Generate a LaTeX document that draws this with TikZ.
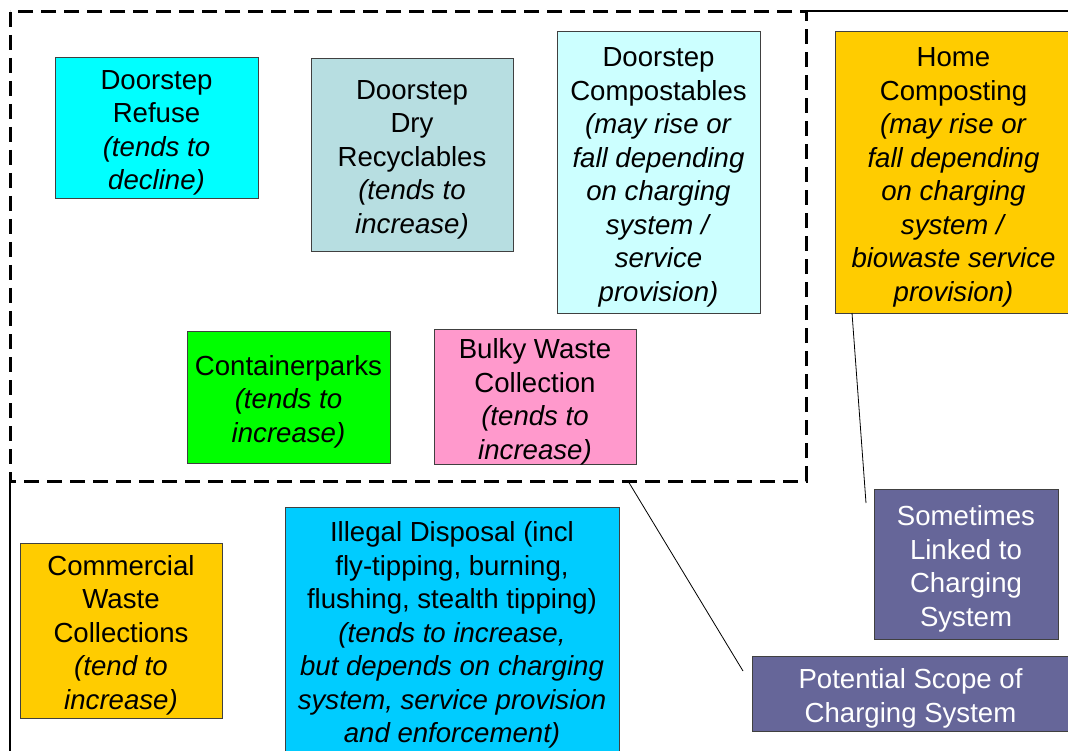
\documentclass[tikz,border=0pt]{standalone}
\usepackage{fontspec}
\setmainfont{Liberation Sans}
\usepackage{xcolor}
\usepackage{tikz}

\definecolor{refusecyan}{HTML}{00FFFF}
\definecolor{drygrey}{HTML}{B7DEE1}
\definecolor{compostpale}{HTML}{CCFFFF}
\definecolor{homegold}{HTML}{FFCC00}
\definecolor{parkgreen}{HTML}{00FF00}
\definecolor{bulkypink}{HTML}{FF99CC}
\definecolor{illegalblue}{HTML}{00CCFF}
\definecolor{scopepurple}{HTML}{666699}

% a little extra room above the first line
\newcommand{\firstline}{\rule{0pt}{29.5pt}}

\tikzset{
  wastebox/.style={draw=black!75, line width=0.8pt, inner sep=0pt, align=center,
    font=\fontsize{27.6}{33.5}\selectfont},
  scopebox/.style={wastebox, fill=scopepurple, text=white},
  pointer/.style={draw=black, line width=0.8pt}
}

\begin{document}
\begin{tikzpicture}[x=1pt,y=-1pt]
       \useasboundingbox (0,0) rectangle (1068,751);
       \begin{scope}
         % frame and scope of doorstep services
         \draw[line width=2pt] (10,760) -- (10,481);
         \draw[line width=2pt] (806,11) -- (1080,11);
         \draw[line width=3pt,dash pattern=on 15pt off 8pt] (10,12) rectangle (806,481);
       \end{scope}
       \begin{scope}
         \node[wastebox,fill=refusecyan,minimum width=203pt,minimum height=141pt] (refuse) at (156.5,127.5)
           {\firstline Doorstep\\Refuse\\\textit{(tends to}\\\textit{decline)}};
         \node[wastebox,fill=drygrey,minimum width=202pt,minimum height=193pt] (dry) at (412,154.5)
           {\firstline Doorstep\\Dry\\Recyclables\\\textit{(tends to}\\\textit{increase)}};
         \node[wastebox,fill=compostpale,minimum width=203pt,minimum height=282pt] (compost) at (658.5,172)
           {\firstline Doorstep\\Compostables\\\textit{(may rise or}\\\textit{fall depending}\\\textit{on charging}\\\textit{system /}\\\textit{service}\\\textit{provision)}};
         \node[wastebox,fill=homegold,minimum width=237pt,minimum height=282pt] (home) at (953.5,172)
           {\firstline Home\\Composting\\\textit{(may rise or}\\\textit{fall depending}\\\textit{on charging}\\\textit{system /}\\\textit{biowaste service}\\\textit{provision)}};
         \node[wastebox,fill=parkgreen,minimum width=203pt,minimum height=132pt] (parks) at (288.5,397)
           {\firstline Containerparks\\\textit{(tends to}\\\textit{increase)}};
         \node[wastebox,fill=bulkypink,minimum width=202pt,minimum height=132pt] (bulky) at (535,397)
           {\firstline Bulky Waste\\Collection\\\textit{(tends to}\\\textit{increase)}};
       \end{scope}
       \begin{scope}
         \node[wastebox,fill=homegold,minimum width=202pt,minimum height=175pt] (commercial) at (121,630.5)
           {\firstline Commercial\\Waste\\Collections\\\textit{(tend to}\\\textit{increase)}};
         \node[wastebox,fill=illegalblue,minimum width=334pt,minimum height=247pt] (illegal) at (452,630.5)
           {\firstline Illegal Disposal (incl\\fly-tipping, burning,\\flushing, stealth tipping)\\\textit{(tends to increase,}\\\textit{but depends on charging}\\\textit{system, service provision}\\\textit{and enforcement)}};
         \node[scopebox,minimum width=184pt,minimum height=150pt] (linked) at (966,564)
           {\firstline Sometimes\\Linked to\\Charging\\System};
         \node[scopebox,minimum width=316pt,minimum height=75pt] (potential) at (910.5,693.5)
           {\firstline Potential Scope of\\Charging System};
       \end{scope}
       % callout pointers
       \coordinate (linkedtip) at (866,503);
       \coordinate (potentialtip) at (743,671);
       \coordinate (homefoot) at (852,313);
       \coordinate (dashfoot) at (628,481);
       \draw[pointer] (homefoot) -- (linkedtip);
       \draw[pointer] (dashfoot) -- (potentialtip);
     \end{tikzpicture}
\end{document}
